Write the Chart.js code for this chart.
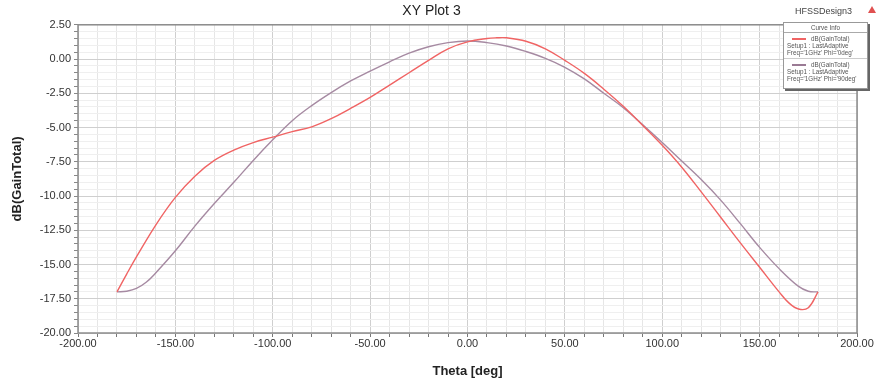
<!DOCTYPE html>
<html>
<head>
<meta charset="utf-8">
<script src="https://cdn.jsdelivr.net/npm/chart.js@4/dist/chart.umd.min.js"></script>
<style>
  html,body{margin:0;padding:0;background:#fff;}
  #wrap{position:relative;width:884px;height:390px;font-family:"Liberation Sans",Arial,sans-serif;}
  canvas{position:absolute;left:0;top:0;}
  #design{position:absolute;left:795px;top:6px;font-size:9px;color:#444;}
  #tri{position:absolute;left:868px;top:6px;width:0;height:0;border-left:4px solid transparent;border-right:4px solid transparent;border-bottom:7px solid #e05050;}
  #legend{position:absolute;left:783px;top:22px;width:83px;height:65px;background:#fff;border:1px solid #999;box-shadow:2px 2px 0 #666;font-size:6.3px;color:#555;line-height:7px;}
  #legend .hd{text-align:center;border-bottom:1px solid #aaa;padding:1px 0 1px 0;}
  #legend .it{padding:2px 2px 2px 3px;white-space:nowrap;}
  #legend .it + .it{border-top:1px solid #ccc;}
  #legend .sw{display:inline-block;width:14px;height:2px;vertical-align:middle;margin-right:5px;margin-left:5px;}
</style>
</head>
<body>
<div id="wrap">
<canvas id="c" width="884" height="390"></canvas>
<div id="design">HFSSDesign3</div>
<div id="tri"></div>
<div id="legend">
  <div class="hd">Curve Info</div>
  <div class="it"><span class="sw" style="background:#f06464"></span>dB(GainTotal)<br>Setup1 : LastAdaptive<br>Freq='1GHz' Phi='0deg'</div>
  <div class="it"><span class="sw" style="background:#9a7a94"></span>dB(GainTotal)<br>Setup1 : LastAdaptive<br>Freq='1GHz' Phi='90deg'</div>
</div>
</div>
<script>
const thetaRed = [-180,-175,-170,-160,-150,-140,-130,-120,-110,-100,-90,-80,-70,-60,-50,-40,-30,-20,-10,0,10,15,20,30,40,50,60,70,80,90,100,110,120,130,140,150,160,165,170,175,180];
const gainPhi0 = [-17.0,-15.7,-14.45,-12.1,-10.1,-8.55,-7.4,-6.65,-6.1,-5.7,-5.3,-4.95,-4.35,-3.6,-2.8,-1.9,-1.0,-0.1,0.75,1.25,1.5,1.55,1.55,1.3,0.75,-0.1,-1.05,-2.2,-3.45,-4.85,-6.3,-7.9,-9.7,-11.55,-13.4,-15.2,-17.0,-17.8,-18.25,-18.15,-17.0];
const thetaPurple = [-180,-175,-170,-165,-160,-150,-140,-130,-120,-110,-100,-90,-80,-70,-60,-50,-40,-30,-20,-10,0,10,20,30,40,50,60,70,80,90,100,110,120,130,140,150,160,170,175,180];
const gainPhi90 = [-17.0,-16.95,-16.75,-16.3,-15.6,-14.0,-12.2,-10.55,-9.0,-7.4,-5.9,-4.5,-3.4,-2.45,-1.6,-0.88,-0.2,0.43,0.9,1.2,1.32,1.2,0.95,0.55,0.05,-0.6,-1.45,-2.5,-3.55,-4.8,-6.1,-7.45,-8.8,-10.3,-12.0,-13.75,-15.3,-16.6,-16.95,-17.0];
const seriesLabels = ["dB(GainTotal) Phi='0deg'","dB(GainTotal) Phi='90deg'"];
const xRange = [-200,200];
const yRange = [-20,2.5];

const frame = {
  id:'frame',
  afterDraw(chart){
    const {ctx, chartArea:a} = chart;
    ctx.save();
    ctx.strokeStyle='#8c8c8c';
    ctx.lineWidth=1.5;
    ctx.strokeRect(a.left, a.top, a.right-a.left, a.bottom-a.top);
    ctx.restore();
  }
};

const near = (v, m) => Math.abs(v/m - Math.round(v/m)) < 1e-6;
const FONT = '"Liberation Sans", Arial, sans-serif';

new Chart(document.getElementById('c'), {
  type:'scatter',
  data:{
    datasets:[
      {label:seriesLabels[0], data:thetaRed.map((t,i)=>({x:t,y:gainPhi0[i]})), showLine:true, borderColor:'#f06464', borderWidth:1.4, pointRadius:0, tension:0.4, order:1},
      {label:seriesLabels[1], data:thetaPurple.map((t,i)=>({x:t,y:gainPhi90[i]})), showLine:true, borderColor:'#a68aa2', borderWidth:1.4, pointRadius:0, tension:0.4, order:2}
    ]
  },
  options:{
    responsive:false, animation:false,
    layout:{padding:{left:6,right:27,top:0,bottom:11}},
    plugins:{
      legend:{display:false},
      tooltip:{enabled:false},
      title:{display:true, text:'XY Plot 3', color:'#222', font:{family:FONT, size:14, weight:'normal'}, padding:{top:3,bottom:5}}
    },
    scales:{
      x:{
        type:'linear', min:xRange[0], max:xRange[1],
        afterFit(s){ s.height = 46; },
        ticks:{stepSize:10, autoSkip:false, maxRotation:0, color:'#333', padding:0,
          font:{family:FONT, size:11},
          callback:v=> near(v,50) ? v.toFixed(2) : ''},
        grid:{tickLength:4, color:ctx=> near(ctx.tick.value,50) ? '#cfcfcf' : '#e6e6e6', tickColor:'#777', lineWidth:1},
        border:{display:false},
        title:{display:true, text:'Theta [deg]', color:'#222', font:{family:FONT, size:13, weight:'bold'}, padding:{top:0,bottom:0}}
      },
      y:{
        type:'linear', min:yRange[0], max:yRange[1],
        afterFit(s){ s.width = 72; },
        ticks:{stepSize:0.5, autoSkip:false, color:'#333', padding:3,
          font:{family:FONT, size:11},
          callback:v=> near(v,2.5) ? v.toFixed(2) : ''},
        grid:{tickLength:4, color:ctx=> near(ctx.tick.value,2.5) ? '#cfcfcf' : '#efefef', tickColor:'#888', lineWidth:1},
        border:{display:false},
        title:{display:true, text:'dB(GainTotal)', color:'#222', font:{family:FONT, size:13, weight:'bold'}, padding:{bottom:2}}
      }
    }
  },
  plugins:[frame]
});
</script>
</body>
</html>
